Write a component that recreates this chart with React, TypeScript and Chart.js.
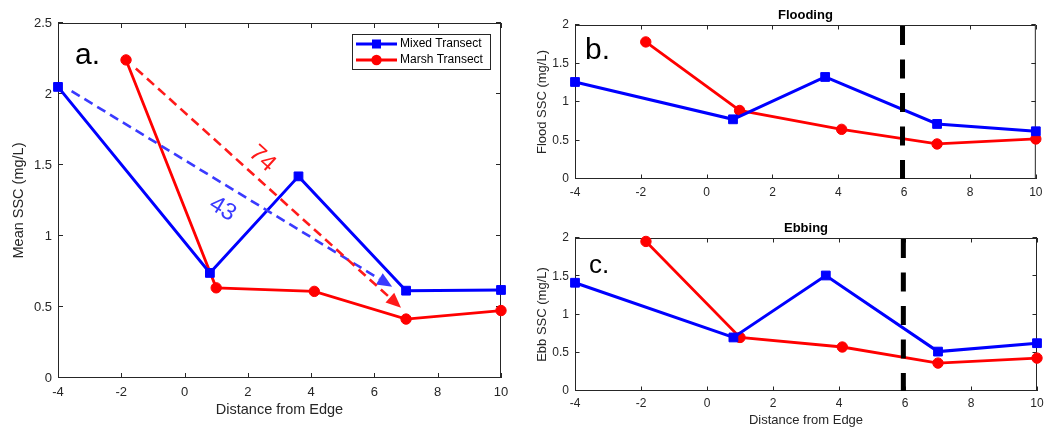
import React, { useEffect, useRef } from 'react';
import { Chart, registerables } from 'chart.js';

Chart.register(...registerables);

const FONT = "'Liberation Sans', Arial, Helvetica, sans-serif";
const INK = '#262626';
const BLUE = '#0000ff';
const RED = '#ff0000';
const TREND_BLUE = '#3a3aff';
const TREND_RED = '#ff1a1a';

// ---------- data ----------
const distanceMin = -4;
const distanceMax = 10;
const distanceStep = 2;
const sscStep = 0.5;
const meanSscMax = 2.5;
const tideSscMax = 2;

const seriesNames = ['Mixed Transect', 'Marsh Transect'];
const mixedDistance = [-4, 0.8, 3.6, 7, 10];
const marshDistance = [-1.85, 1.0, 4.1, 7, 10];

const meanMixed = [2.05, 0.74, 1.42, 0.615, 0.62];
const meanMarsh = [2.24, 0.635, 0.61, 0.415, 0.475];

const floodMixed = [1.26, 0.775, 1.325, 0.715, 0.62];
const floodMarsh = [1.78, 0.89, 0.645, 0.455, 0.52];

const ebbMixed = [1.415, 0.7, 1.51, 0.515, 0.625];
const ebbMarsh = [1.955, 0.7, 0.575, 0.365, 0.43];

const vegetationEdge = [5.95];

const mixedTrendStart = [-3.57, 2.02];
const mixedTrendEnd = [6.56, 0.643];
const mixedTrendLabel = '43';
const mixedTrendLabelAt = [1.2, 1.19];

const marshTrendStart = [-1.54, 2.18];
const marshTrendEnd = [6.84, 0.495];
const marshTrendLabel = '74';
const marshTrendLabelAt = [2.45, 1.544];

const panelLetters = ['a.', 'b.', 'c.'];
const panelTitles = ['', 'Flooding', 'Ebbing'];
const yTitles = ['Mean SSC (mg/L)', 'Flood SSC (mg/L)', 'Ebb SSC (mg/L)'];
const xTitle = 'Distance from Edge';

// ---------- helpers ----------
const zip = (xs: number[], ys: number[]) => xs.map((x, i) => ({ x, y: ys[i] }));
const fmt = (v: any) => String(Math.round(Number(v) * 100) / 100);

function drawTrend(ctx: CanvasRenderingContext2D, sx: number, sy: number, ex: number, ey: number, color: string) {
  const ang = Math.atan2(ey - sy, ex - sx);
  const headLen = 15;
  const headHalf = 6.5;
  const c = Math.cos(ang);
  const s = Math.sin(ang);
  const bx = ex - headLen * c;
  const by = ey - headLen * s;
  ctx.strokeStyle = color;
  ctx.lineWidth = 2.6;
  ctx.setLineDash([9.5, 5.5]);
  ctx.beginPath();
  ctx.moveTo(sx, sy);
  ctx.lineTo(bx, by);
  ctx.stroke();
  ctx.setLineDash([]);
  ctx.fillStyle = color;
  ctx.beginPath();
  ctx.moveTo(ex, ey);
  ctx.lineTo(bx + headHalf * s, by - headHalf * c);
  ctx.lineTo(bx - headHalf * s, by + headHalf * c);
  ctx.closePath();
  ctx.fill();
  return ang;
}

function matlabLook(p: any) {
  return {
    id: 'matlabLook',
    beforeDatasetsDraw(chart: any) {
      const { ctx, chartArea: a, scales } = chart;
      ctx.save();
      ctx.strokeStyle = INK;
      ctx.lineWidth = 1;
      ctx.strokeRect(a.left + 0.5, a.top + 0.5, a.right - a.left - 1, a.bottom - a.top - 1);
      const tl = p.tickLen;
      ctx.beginPath();
      scales.x.ticks.forEach((t: any) => {
        const x = Math.round(scales.x.getPixelForValue(t.value)) + 0.5;
        ctx.moveTo(x, a.bottom);
        ctx.lineTo(x, a.bottom - tl);
        ctx.moveTo(x, a.top);
        ctx.lineTo(x, a.top + tl);
      });
      scales.y.ticks.forEach((t: any) => {
        const y = Math.round(scales.y.getPixelForValue(t.value)) - 0.5;
        ctx.moveTo(a.left, y);
        ctx.lineTo(a.left + tl, y);
        ctx.moveTo(a.right, y);
        ctx.lineTo(a.right - tl, y);
      });
      ctx.stroke();
      ctx.restore();
    },
    afterDatasetsDraw(chart: any) {
      const { ctx, chartArea: a, scales } = chart;
      const X = (v: number) => scales.x.getPixelForValue(v);
      const Y = (v: number) => scales.y.getPixelForValue(v);
      ctx.save();
      if (p.edges) {
        p.edges.forEach((e: number) => {
          ctx.strokeStyle = '#000';
          ctx.lineWidth = 5;
          ctx.setLineDash([19, 14.5]);
          ctx.beginPath();
          ctx.moveTo(X(e), a.top + 1);
          ctx.lineTo(X(e), a.bottom);
          ctx.stroke();
          ctx.setLineDash([]);
        });
      }
      if (p.trends) {
        p.trends.forEach((t: any) => {
          const ang = drawTrend(ctx, X(t.start[0]), Y(t.start[1]), X(t.end[0]), Y(t.end[1]), t.color);
          ctx.save();
          ctx.translate(X(t.at[0]), Y(t.at[1]));
          ctx.rotate(ang);
          ctx.fillStyle = t.color;
          ctx.font = `24px ${FONT}`;
          ctx.textAlign = 'center';
          ctx.textBaseline = 'middle';
          ctx.fillText(t.label, 0, 0);
          ctx.restore();
        });
      }
      ctx.restore();
    },
    afterDraw(chart: any) {
      const { ctx, chartArea: a } = chart;
      ctx.save();
      ctx.fillStyle = '#000';
      ctx.font = `${p.letterSize}px ${FONT}`;
      ctx.textAlign = 'left';
      ctx.textBaseline = 'alphabetic';
      ctx.fillText(p.letter, a.left + p.letterDx, a.top + p.letterDy);
      if (p.title) {
        ctx.font = `bold 13px ${FONT}`;
        ctx.textAlign = 'center';
        ctx.textBaseline = 'middle';
        ctx.fillText(p.title, (a.left + a.right) / 2, a.top - 10);
      }
      if (p.legend) {
        const W = 138;
        const H = 35;
        const L = a.right - 149;
        const T = a.top + 11;
        ctx.fillStyle = '#fff';
        ctx.fillRect(L, T, W, H);
        ctx.strokeStyle = INK;
        ctx.lineWidth = 1;
        ctx.strokeRect(L + 0.5, T + 0.5, W, H);
        chart.data.datasets.forEach((ds: any, i: number) => {
          const y = T + 10 + i * 16;
          ctx.strokeStyle = ds.borderColor;
          ctx.lineWidth = ds.borderWidth;
          ctx.beginPath();
          ctx.moveTo(L + 4, y);
          ctx.lineTo(L + 45, y);
          ctx.stroke();
          ctx.fillStyle = ds.borderColor;
          const mx = L + 24.5;
          if (ds.pointStyle === 'rect') {
            ctx.fillRect(mx - 4.5, y - 4.5, 9, 9);
          } else {
            ctx.beginPath();
            ctx.arc(mx, y, 5.2, 0, Math.PI * 2);
            ctx.fill();
          }
          ctx.fillStyle = '#000';
          ctx.font = `12px ${FONT}`;
          ctx.textAlign = 'left';
          ctx.textBaseline = 'middle';
          ctx.fillText(ds.label, L + 48, y);
        });
      }
      ctx.restore();
    },
  };
}

function buildConfig(p: any): any {
  return {
    type: 'line',
    data: {
      datasets: [
        {
          label: seriesNames[0],
          data: zip(mixedDistance, p.mixed),
          borderColor: BLUE,
          backgroundColor: BLUE,
          borderWidth: 3,
          pointStyle: 'rect',
          pointRadius: 6.2,
          pointBorderWidth: 1,
          pointBackgroundColor: BLUE,
          pointBorderColor: BLUE,
          tension: 0,
          clip: false,
        },
        {
          label: seriesNames[1],
          data: zip(marshDistance, p.marsh),
          borderColor: RED,
          backgroundColor: RED,
          borderWidth: 2.8,
          pointStyle: 'circle',
          pointRadius: 5.2,
          pointBorderWidth: 1,
          pointBackgroundColor: RED,
          pointBorderColor: RED,
          tension: 0,
          clip: false,
        },
      ],
    },
    options: {
      responsive: false,
      animation: false,
      events: [],
      layout: { padding: p.padding },
      plugins: { legend: { display: false }, tooltip: { enabled: false }, title: { display: false } },
      scales: {
        x: {
          type: 'linear',
          min: distanceMin,
          max: distanceMax,
          grid: { display: false, drawTicks: false },
          border: { display: false },
          ticks: {
            stepSize: distanceStep,
            padding: p.xTickPad,
            color: INK,
            font: { family: FONT, size: p.tickSize },
            callback: fmt,
            maxRotation: 0,
            autoSkip: false,
          },
          title: p.xTitle
            ? {
                display: true,
                text: p.xTitle,
                color: INK,
                font: { family: FONT, size: p.titleSize },
                padding: { top: 0, bottom: p.xTitlePad },
              }
            : { display: false },
          afterFit: (s: any) => {
            s.height = p.xHeight;
          },
        },
        y: {
          type: 'linear',
          min: 0,
          max: p.yMax,
          grid: { display: false, drawTicks: false },
          border: { display: false },
          ticks: {
            stepSize: sscStep,
            padding: 6,
            color: INK,
            font: { family: FONT, size: p.tickSize },
            callback: fmt,
          },
          title: {
            display: true,
            text: p.yTitle,
            color: INK,
            font: { family: FONT, size: p.titleSize },
            padding: { top: p.yTitlePad, bottom: 0 },
          },
          afterFit: (s: any) => {
            s.width = p.yWidth;
          },
        },
      },
    },
    plugins: [matlabLook(p)],
  };
}

function Panel({ left, top, width, height, params }: any) {
  const ref = useRef<HTMLCanvasElement>(null);
  useEffect(() => {
    if (!ref.current) return;
    const chart = new Chart(ref.current, buildConfig(params));
    return () => chart.destroy();
  }, []);
  return (
    <div style={{ position: 'absolute', left, top, width, height }}>
      <canvas ref={ref} width={width} height={height} style={{ display: 'block', width, height }} />
    </div>
  );
}

const panelA = {
  mixed: meanMixed,
  marsh: meanMarsh,
  yMax: meanSscMax,
  yTitle: yTitles[0],
  xTitle,
  padding: { left: 0, right: 29, top: 23, bottom: 0 },
  yWidth: 58,
  xHeight: 57,
  tickSize: 13,
  titleSize: 14.5,
  xTickPad: 6.5,
  xTitlePad: 16,
  yTitlePad: 10.6,
  tickLen: 5,
  letter: panelLetters[0],
  letterSize: 30,
  letterDx: 17,
  letterDy: 41,
  legend: true,
  trends: [
    { start: mixedTrendStart, end: mixedTrendEnd, label: mixedTrendLabel, at: mixedTrendLabelAt, color: TREND_BLUE },
    { start: marshTrendStart, end: marshTrendEnd, label: marshTrendLabel, at: marshTrendLabelAt, color: TREND_RED },
  ],
};

const panelB = {
  mixed: floodMixed,
  marsh: floodMarsh,
  yMax: tideSscMax,
  yTitle: yTitles[1],
  xTitle: '',
  padding: { left: 0, right: 12, top: 25, bottom: 0 },
  yWidth: 45,
  xHeight: 36,
  tickSize: 12,
  titleSize: 13,
  xTickPad: 6.5,
  xTitlePad: 0,
  yTitlePad: 5,
  tickLen: 4.5,
  letter: panelLetters[1],
  letterSize: 30,
  letterDx: 10,
  letterDy: 34,
  title: panelTitles[1],
  edges: vegetationEdge,
};

const panelC = {
  mixed: ebbMixed,
  marsh: ebbMarsh,
  yMax: tideSscMax,
  yTitle: yTitles[2],
  xTitle,
  padding: { left: 0, right: 12, top: 23, bottom: 0 },
  yWidth: 45,
  xHeight: 44,
  tickSize: 12,
  titleSize: 13,
  xTickPad: 5,
  xTitlePad: 7.2,
  yTitlePad: 5,
  tickLen: 4.5,
  letter: panelLetters[2],
  letterSize: 26,
  letterDx: 14,
  letterDy: 35,
  title: panelTitles[2],
  edges: vegetationEdge,
};

export default function App() {
  return (
    <div style={{ position: 'absolute', left: 0, top: 0, width: 1049, height: 435, background: '#fff', overflow: 'hidden' }}>
      <Panel left={0} top={0} width={530} height={435} params={panelA} />
      <Panel left={530} top={0} width={519} height={215} params={panelB} />
      <Panel left={530} top={215} width={519} height={220} params={panelC} />
    </div>
  );
}
